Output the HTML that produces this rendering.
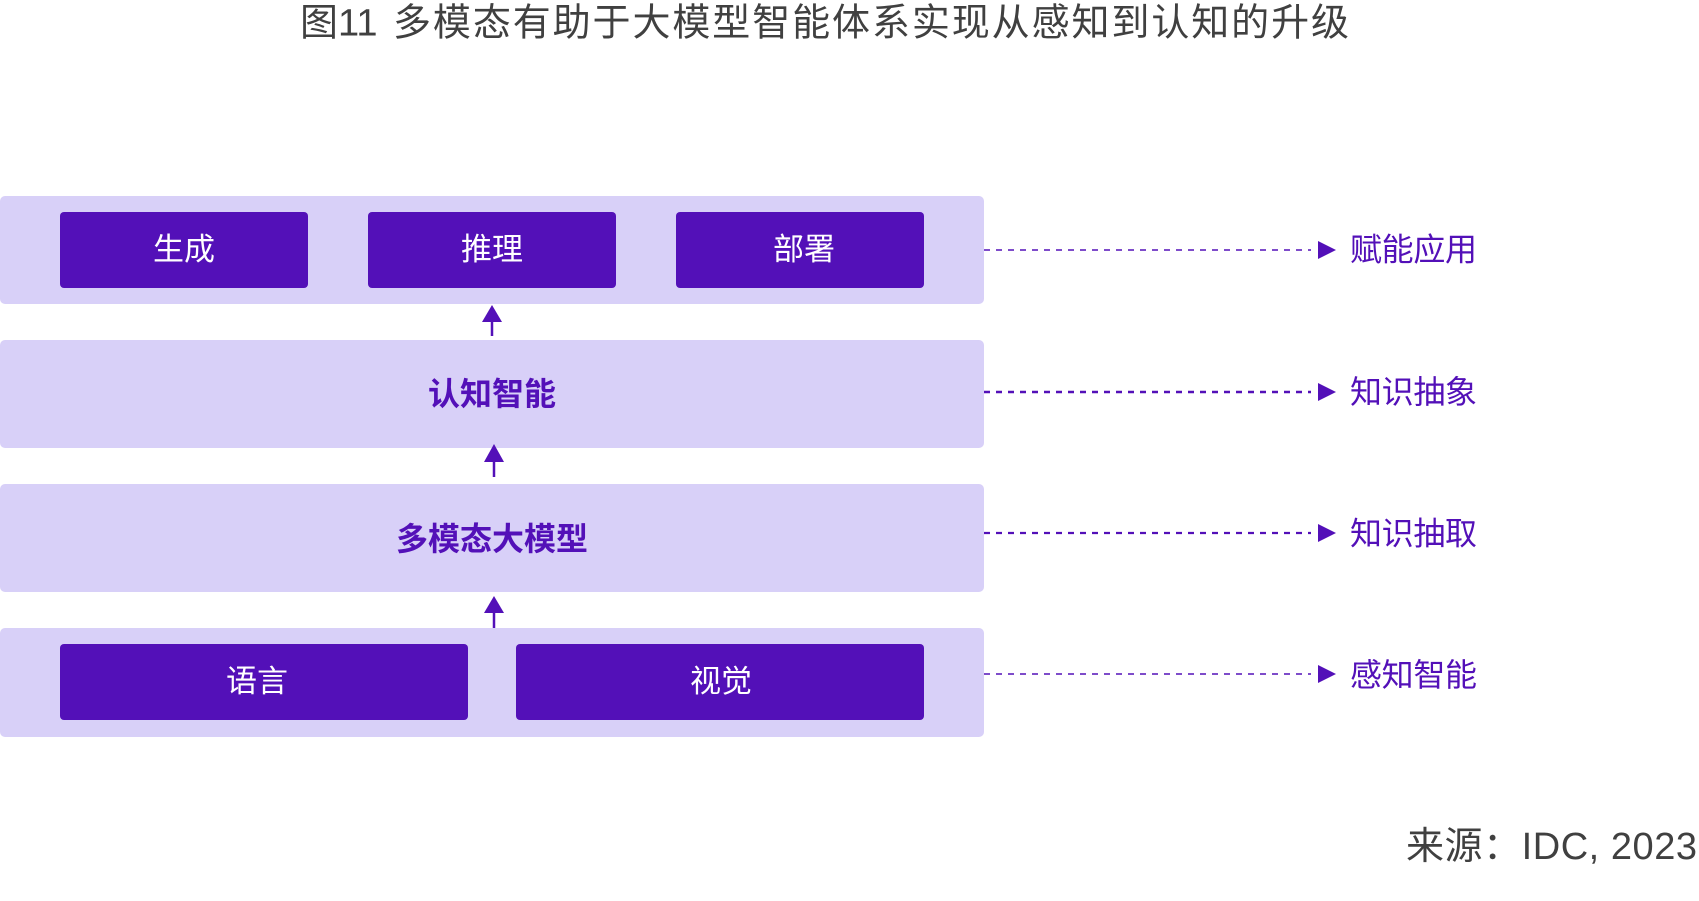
<!DOCTYPE html>
<html>
<head>
<meta charset="utf-8">
<style>
  html,body{margin:0;padding:0;background:#ffffff;}
  body{width:1699px;height:901px;overflow:hidden;}
  svg{display:block;}
  .t{font-family:"Liberation Sans","Noto Sans CJK SC",sans-serif;}
</style>
</head>
<body>
<svg width="1699" height="901" viewBox="0 0 1699 901" xmlns="http://www.w3.org/2000/svg">
  <rect x="0" y="0" width="1699" height="901" fill="#ffffff"/>

  <!-- Title -->
  <text class="t" x="300" y="35.5" font-size="38" fill="#404040">图11</text>
  <text class="t" x="393" y="35.5" font-size="38" fill="#404040" textLength="956" lengthAdjust="spacing">多模态有助于大模型智能体系实现从感知到认知的升级</text>

  <!-- Bands -->
  <rect x="0" y="196" width="984" height="108" rx="5" fill="#D8D0F8"/>
  <rect x="0" y="340" width="984" height="108" rx="5" fill="#D8D0F8"/>
  <rect x="0" y="484" width="984" height="108" rx="5" fill="#D8D0F8"/>
  <rect x="0" y="628" width="984" height="109" rx="5" fill="#D8D0F8"/>

  <!-- Top boxes -->
  <rect x="60" y="212" width="248" height="76" rx="4" fill="#5310B8"/>
  <rect x="368" y="212" width="248" height="76" rx="4" fill="#5310B8"/>
  <rect x="676" y="212" width="248" height="76" rx="4" fill="#5310B8"/>
  <text class="t" x="184" y="260" font-size="31" fill="#ffffff" text-anchor="middle">生成</text>
  <text class="t" x="492" y="260" font-size="31" fill="#ffffff" text-anchor="middle">推理</text>
  <text class="t" x="804" y="260" font-size="31" fill="#ffffff" text-anchor="middle">部署</text>

  <!-- Band labels -->
  <text class="t" x="492" y="405" font-size="32" font-weight="700" fill="#5310B8" text-anchor="middle">认知智能</text>
  <text class="t" x="492" y="550" font-size="32" font-weight="700" fill="#5310B8" text-anchor="middle">多模态大模型</text>

  <!-- Bottom boxes -->
  <rect x="60" y="644" width="408" height="76" rx="4" fill="#5310B8"/>
  <rect x="516" y="644" width="408" height="76" rx="4" fill="#5310B8"/>
  <text class="t" x="257" y="692" font-size="31" fill="#ffffff" text-anchor="middle">语言</text>
  <text class="t" x="721" y="692" font-size="31" fill="#ffffff" text-anchor="middle">视觉</text>

  <!-- Up arrows -->
  <line x1="492" y1="320" x2="492" y2="336" stroke="#5310B8" stroke-width="2.5"/>
  <polygon points="482,322 502,322 492,305" fill="#5310B8"/>
  <line x1="494" y1="460" x2="494" y2="477" stroke="#5310B8" stroke-width="2.5"/>
  <polygon points="484,462 504,462 494,444" fill="#5310B8"/>
  <line x1="494" y1="611" x2="494" y2="628" stroke="#5310B8" stroke-width="2.5"/>
  <polygon points="484,613 504,613 494,596" fill="#5310B8"/>

  <!-- Dashed connectors -->
  <line x1="984" y1="250" x2="1311" y2="250" stroke="#5310B8" stroke-width="1.5" stroke-dasharray="6 6"/>
  <polygon points="1318,241 1318,259 1336,250" fill="#5310B8"/>
  <line x1="984" y1="392" x2="1311" y2="392" stroke="#5310B8" stroke-width="2.5" stroke-dasharray="6 6"/>
  <polygon points="1318,383 1318,401 1336,392" fill="#5310B8"/>
  <line x1="984" y1="533" x2="1311" y2="533" stroke="#5310B8" stroke-width="2.2" stroke-dasharray="6 6"/>
  <polygon points="1318,524 1318,542 1336,533" fill="#5310B8"/>
  <line x1="984" y1="674" x2="1311" y2="674" stroke="#5310B8" stroke-width="1.5" stroke-dasharray="6 6"/>
  <polygon points="1318,665 1318,683 1336,674" fill="#5310B8"/>

  <!-- Right labels -->
  <text class="t" x="1350" y="260.5" font-size="32" fill="#5310B8" textLength="127" lengthAdjust="spacing">赋能应用</text>
  <text class="t" x="1350" y="403" font-size="32" fill="#5310B8" textLength="127" lengthAdjust="spacing">知识抽象</text>
  <text class="t" x="1350" y="544.5" font-size="32" fill="#5310B8" textLength="127" lengthAdjust="spacing">知识抽取</text>
  <text class="t" x="1350" y="686" font-size="32" fill="#5310B8" textLength="127" lengthAdjust="spacing">感知智能</text>

  <!-- Source -->
  <text class="t" x="1406" y="859" font-size="38" fill="#404040" textLength="291" lengthAdjust="spacing">来源：IDC, 2023</text>
</svg>
</body>
</html>
